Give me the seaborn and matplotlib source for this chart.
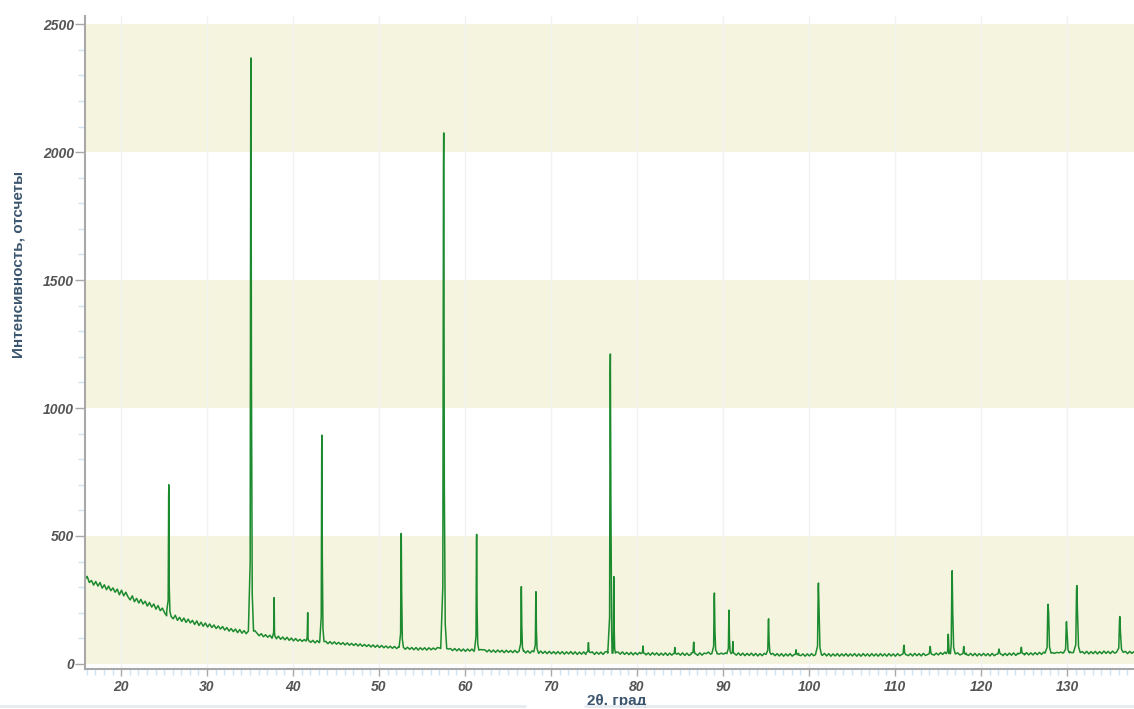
import numpy as np
import pandas as pd
import seaborn as sns
import matplotlib.pyplot as plt
from matplotlib.ticker import MultipleLocator
from matplotlib.lines import Line2D

# фон дифрактограммы: значения через 0.25 градуса, начиная с 15.8
bg_start = 15.8
bg_step = 0.25
bg_counts = [
    330, 342, 318, 326, 308, 322, 304, 318, 296, 309, 290, 304, 286, 297, 280, 292, 270, 288, 266, 280,
    262, 250, 266, 243, 256, 238, 252, 234, 245, 226, 240, 222, 234, 214, 228, 208, 218, 200, 206, 190,
    186, 176, 190, 170, 182, 166, 179, 162, 175, 160, 170, 154, 168, 150, 163, 147, 160, 144, 156, 142,
    152, 138, 148, 136, 146, 132, 142, 128, 138, 126, 136, 122, 134, 120, 130, 118, 128, 140, 150, 130,
    120, 110, 118, 106, 114, 104, 112, 100, 109, 98, 108, 96, 105, 94, 104, 92, 101, 90, 99, 89,
    96, 88, 95, 86, 93, 84, 92, 82, 91, 83, 89, 80, 88, 79, 87, 78, 86, 77, 84, 76,
    83, 74, 82, 73, 80, 72, 79, 70, 78, 69, 76, 68, 75, 66, 74, 65, 73, 64, 72, 63,
    70, 62, 69, 61, 68, 60, 67, 58, 66, 57, 65, 57, 64, 55, 64, 54, 63, 55, 63, 54,
    63, 55, 62, 56, 64, 62, 68, 72, 66, 58, 60, 52, 60, 51, 59, 50, 58, 49, 58, 50,
    58, 49, 57, 48, 56, 55, 55, 47, 55, 46, 54, 45, 54, 46, 53, 44, 53, 45, 52, 44,
    53, 44, 53, 43, 52, 43, 51, 42, 51, 42, 50, 41, 50, 41, 49, 40, 49, 40, 48, 39,
    48, 39, 48, 38, 47, 39, 48, 38, 47, 37, 46, 38, 47, 37, 46, 38, 47, 37, 46, 38,
    46, 37, 47, 48, 54, 52, 50, 46, 46, 38, 47, 37, 45, 36, 45, 35, 44, 36, 45, 35,
    44, 35, 43, 34, 44, 35, 43, 33, 42, 34, 43, 33, 42, 34, 43, 33, 42, 34, 43, 33,
    42, 33, 43, 34, 42, 33, 43, 34, 42, 40, 46, 38, 47, 40, 45, 38, 42, 38, 43, 39,
    43, 35, 44, 34, 43, 33, 42, 32, 41, 33, 42, 32, 41, 31, 40, 32, 41, 33, 43, 35,
    41, 32, 40, 31, 40, 30, 39, 31, 40, 30, 39, 31, 41, 32, 39, 30, 39, 31, 40, 32,
    41, 38, 41, 33, 41, 31, 40, 30, 39, 31, 40, 30, 39, 31, 40, 30, 39, 31, 40, 30,
    39, 30, 40, 31, 39, 30, 40, 31, 39, 30, 40, 31, 39, 30, 40, 31, 39, 30, 40, 32,
    40, 31, 41, 32, 40, 31, 41, 32, 40, 31, 41, 33, 42, 34, 43, 34, 42, 35, 44, 37,
    46, 42, 51, 47, 49, 39, 43, 35, 44, 34, 42, 33, 41, 32, 41, 31, 40, 32, 41, 32,
    40, 31, 41, 32, 41, 33, 42, 32, 41, 33, 42, 34, 43, 33, 42, 34, 43, 35, 44, 35,
    43, 35, 44, 36, 45, 37, 46, 42, 45, 41, 44, 41, 45, 43, 46, 42, 45, 43, 47, 44,
    49, 45, 53, 44, 48, 40, 49, 39, 48, 40, 49, 39, 48, 40, 50, 41, 49, 40, 50, 42,
    50, 47, 55, 45, 49, 40, 49, 41, 48,
]

# пики: положение, вершина, плечо (Ka2), фон под пиком, полуширина основания
peak_pos = [25.55, 35.10, 37.80, 41.70, 43.35, 52.58, 57.52, 61.35, 66.55, 68.25,
            74.35, 76.90, 77.30, 80.70, 84.40, 86.60, 89.00, 90.70, 91.15, 95.30,
            98.50, 101.10, 111.05, 114.10, 116.20, 116.65, 118.00, 122.10, 124.70,
            127.80, 129.95, 131.15, 136.15]
peak_top = [700, 2368, 259, 200, 894, 510, 2075, 506, 302, 282,
            83, 1211, 341, 70, 64, 85, 277, 210, 87, 176,
            55, 316, 73, 68, 116, 364, 68, 58, 65,
            233, 165, 306, 185]
peak_shoulder = [300, 1090, 120, 100, 420, 280, 700, 220, 150, 130,
                 55, 640, 150, 45, 45, 50, 130, 100, 50, 90,
                 40, 220, 45, 45, 80, 200, 45, 45, 45,
                 200, 120, 200, 120]
peak_base = [188, 128, 104, 89, 87, 65, 60, 54, 50, 47,
             44, 42, 42, 40, 38, 38, 40, 40, 40, 37,
             35, 36, 35, 36, 40, 40, 37, 37, 39,
             42, 43, 44, 45]
peak_halfwidth = [0.25, 0.30, 0.20, 0.20, 0.25, 0.25, 0.35, 0.25, 0.25, 0.25,
                  0.25, 0.30, 0.20, 0.25, 0.25, 0.30, 0.30, 0.25, 0.20, 0.30,
                  0.30, 0.35, 0.35, 0.35, 0.25, 0.35, 0.30, 0.35, 0.35,
                  0.35, 0.35, 0.40, 0.40]

# сборка вершин линии
bg_x = bg_start + bg_step * np.arange(len(bg_counts))
keep = np.ones(len(bg_x), dtype=bool)
for c, w in zip(peak_pos, peak_halfwidth):
    keep &= ~((bg_x > c - w) & (bg_x < c + w))
xs = list(bg_x[keep])
ys = list(np.array(bg_counts)[keep])
for c, h, s, b, w in zip(peak_pos, peak_top, peak_shoulder, peak_base, peak_halfwidth):
    xs += [c - w, c - 0.3 * w, c - 0.08 * w, c, c + 0.2 * w, c + 0.5 * w, c + w]
    ys += [b, b + 0.12 * (h - b), 0.94 * h, h, s, b + 0.15 * (s - b), b]
df = pd.DataFrame({"two_theta": xs, "counts": ys}).sort_values("two_theta")

sns.set_style("white")
plt.rcParams['font.family'] = ['Liberation Sans', 'DejaVu Sans']

fig = plt.figure(figsize=(11.34, 7.09), dpi=100)
ax = fig.add_axes([85 / 1134, 40 / 709, 1049 / 1134, 653 / 709])

# полосы фона
for lo, hi in [(0, 500), (1000, 1500), (2000, 2500)]:
    ax.axhspan(lo, hi, color='#f5f5df', zorder=0, lw=0)
for xv in range(20, 140, 10):
    ax.axvline(xv, color='#f2f2f2', lw=1, zorder=0.5)

sns.lineplot(data=df, x="two_theta", y="counts", sort=False, estimator=None,
             color='#1c8a2e', lw=1.1, ax=ax, zorder=2)

ax.set_xlim(15.8, 137.8)
ax.set_ylim(-20, 2532)
ax.xaxis.set_major_locator(MultipleLocator(10))
ax.xaxis.set_minor_locator(MultipleLocator(1))
ax.yaxis.set_major_locator(MultipleLocator(500))
ax.yaxis.set_minor_locator(MultipleLocator(100))

for side in ['top', 'right']:
    ax.spines[side].set_visible(False)
for side in ['left', 'bottom']:
    ax.spines[side].set_color('#a8a8a8')
    ax.spines[side].set_linewidth(1.5)

ax.tick_params(axis='y', which='major', length=7, width=1, color='#a8a8a8', pad=1,
               left=True, labelsize=10, labelcolor='#555555')
ax.tick_params(axis='y', which='minor', length=5, width=1, color='#cfe3f2', left=True)
ax.tick_params(axis='x', which='major', length=5, width=1, color='#a8a8a8', pad=3,
               bottom=True, labelsize=10, labelcolor='#555555')
ax.tick_params(axis='x', which='minor', length=4, width=1, color='#cfe3f2', bottom=True)
for lab in ax.get_xticklabels() + ax.get_yticklabels():
    lab.set_fontstyle('italic')
    lab.set_fontweight('bold')

ax.set_xlabel("2θ, град", fontsize=11, fontweight='bold', color='#3b566e')
ax.set_ylabel("Интенсивность, отсчеты", fontsize=11, fontweight='bold', color='#3b566e')
ax.xaxis.set_label_coords(0.507, -0.038)
ax.yaxis.set_label_coords(-0.057, 0.62)

# тонкая полоса внизу окна
fig.add_artist(Line2D([0, 525 / 1134], [3 / 709, 3 / 709], color='#e6ebf1', lw=2))
fig.add_artist(Line2D([585 / 1134, 1], [3 / 709, 3 / 709], color='#e6ebf1', lw=2))

fig.savefig("out.png", dpi=100, facecolor='white')
